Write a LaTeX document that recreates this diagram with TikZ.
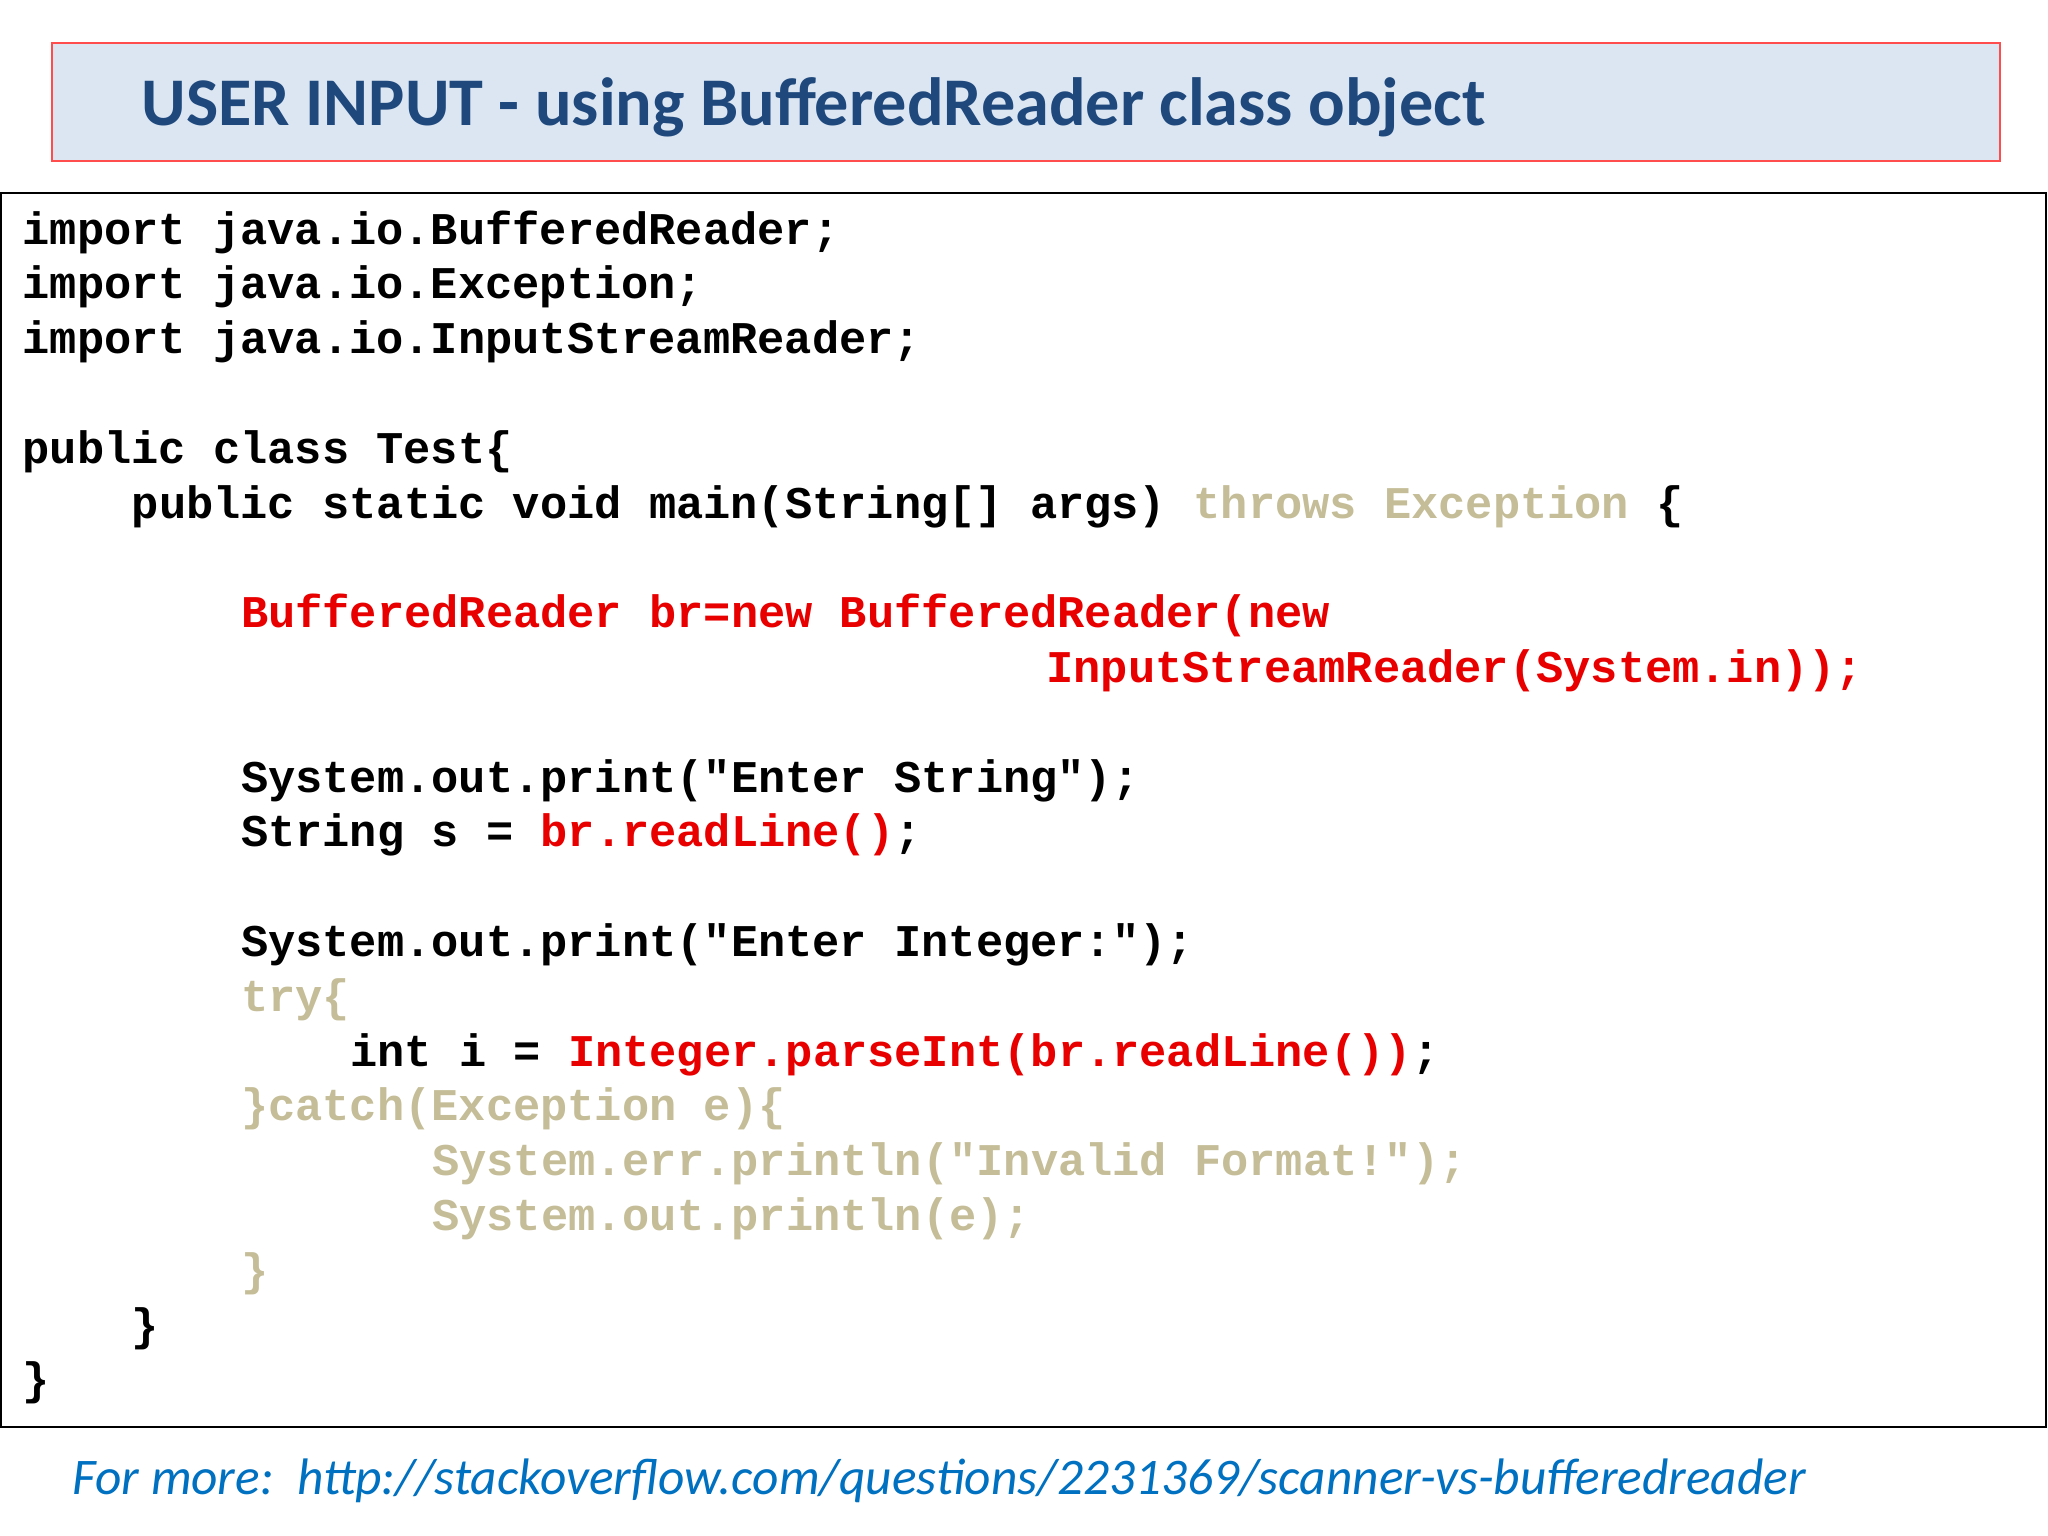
\documentclass[tikz,border=0pt]{standalone}
\usepackage{fontspec}
\setmainfont{Carlito}
\setmonofont{Liberation Mono}
\definecolor{titlefill}{RGB}{220,230,242}
\definecolor{titleblue}{RGB}{31,73,125}
\definecolor{codered}{RGB}{232,0,0}
\definecolor{codetan}{RGB}{196,189,151}
\definecolor{linkblue}{RGB}{0,112,192}
\newcommand{\rd}[1]{\textcolor{codered}{#1}}
\newcommand{\tn}[1]{\textcolor{codetan}{#1}}

\begin{document}
\begin{tikzpicture}[x=0.01cm,y=-0.01cm,
    codeline/.style={anchor=base west,inner sep=0pt,
        font=\ttfamily\bfseries\fontsize{12.9}{15}\selectfont}]
    \useasboundingbox (0,0) rectangle (2048,1536);

    %% Title banner.
    \draw[red!70,fill=titlefill,line width=0.6pt] (52,43) rectangle (2000,161);
    \node[anchor=base west,inner sep=0pt,text=titleblue,
          font=\bfseries\fontsize{19.4}{23}\selectfont] (title) at (141,125)
        {USER INPUT - using BufferedReader class object};

    %% Code box.
    \draw[black,line width=0.8pt] (1,193) rectangle (2046,1427);
    % row / column / text of each line
    \foreach \row/\col/\txt in {%
        0/0/{import java.io.BufferedReader;},
        1/0/{import java.io.Exception;},
        2/0/{import java.io.InputStreamReader;},
        4/0/{public class Test\{},
        5/4/{public static void main(String[] args) \tn{throws Exception} \{},
        7/8/{\rd{BufferedReader br=new BufferedReader(new}},
        8/37.5/{\rd{InputStreamReader(System.in));}},
        10/8/{System.out.print("Enter String");},
        11/8/{String s = \rd{br.readLine()};},
        13/8/{System.out.print("Enter Integer:");},
        14/8/{\tn{try\{}},
        15/12/{int i = \rd{Integer.parseInt(br.readLine())};},
        16/8/{\tn{\}catch(Exception e)\{}},
        17/15/{\tn{System.err.println("Invalid Format!");}},
        18/15/{\tn{System.out.println(e);}},
        19/8/{\tn{\}}},
        20/4/{\}},
        21/0/{\}}} {
        \node[codeline] (line\row) at ({22+27.3*\col},{244+54.8*\row}) {\txt};
    }

    %% Footer link.
    \node[anchor=base west,inner sep=0pt,text=linkblue,
          font=\itshape\fontsize{14.6}{18}\selectfont] (more) at (72,1494)
        {For more:\ \ http://stackoverflow.com/questions/2231369/scanner-vs-bufferedreader};
\end{tikzpicture}
\end{document}
